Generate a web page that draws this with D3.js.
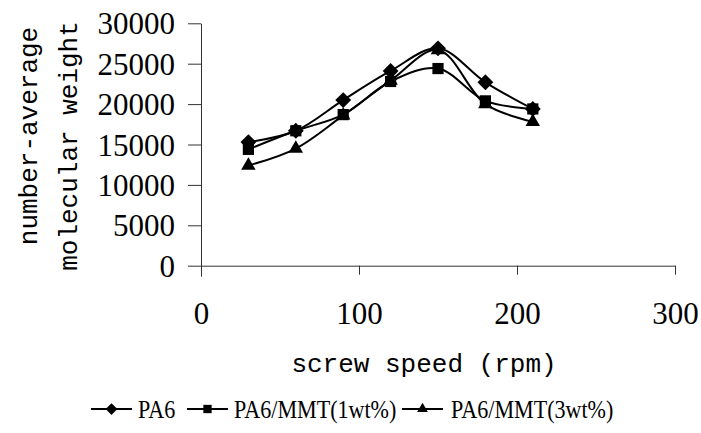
<!DOCTYPE html>
<html>
<head>
<meta charset="utf-8">
<script src="https://cdn.jsdelivr.net/npm/d3@7"></script>
<style>
  body { margin: 0; background: #fff; }
  svg { display: block; }
</style>
</head>
<body>
<svg id="chart" width="701" height="433"></svg>
<script>
// screw speed (rpm)
const speeds = [30, 60, 90, 120, 150, 180, 210];
// number-average molecular weight
const pa6 = [15300, 16700, 20500, 24100, 26900, 22700, 19400];
const pa6_1wt = [14400, 16700, 18700, 22800, 24400, 20400, 19400];
const pa6_3wt = [12400, 14500, 18600, 22900, 26700, 20000, 17800];
const seriesNames = ["PA6", "PA6/MMT(1wt%)", "PA6/MMT(3wt%)"];
const xTicks = [0, 100, 200, 300];
const yTicks = [0, 5000, 10000, 15000, 20000, 25000, 30000];

const SERIF = "'Liberation Serif', 'Times New Roman', serif";
const MONO = "'Liberation Mono', 'DejaVu Sans Mono', monospace";

const svg = d3.select("#chart");
const margin = { left: 201, top: 23.3, right: 26, bottom: 167.3 };
const W = 701, H = 433;

const x = d3.scaleLinear().domain([0, 300]).range([margin.left, W - margin.right]);
const y = d3.scaleLinear().domain([0, 30000]).range([H - margin.bottom, margin.top]);

// axes
const yAxis = svg.append("g")
  .attr("transform", `translate(${margin.left},0)`)
  .call(d3.axisLeft(y).tickValues(yTicks).tickSize(13).tickSizeOuter(0).tickPadding(13).tickFormat(d3.format("d")));
yAxis.selectAll("text").attr("font-family", SERIF).attr("font-size", 31).attr("fill", "#000").attr("dy", "0.34em");

const xAxis = svg.append("g")
  .attr("transform", `translate(0,${y(0)})`)
  .call(d3.axisBottom(x).tickValues(xTicks).tickSize(9).tickSizeOuter(0).tickFormat(d3.format("d")));
xAxis.selectAll("text").attr("font-family", SERIF).attr("font-size", 31).attr("fill", "#000")
  .attr("y", 58).attr("dy", 0);
// the y axis runs a bit past the x axis, like the reference
xAxis.selectAll(".tick").filter(d => d === 0).select("line").attr("y2", 11);
svg.selectAll(".domain, .tick line").attr("stroke", "#333").attr("stroke-width", 1);

// axis titles
svg.append("text")
  .attr("transform", `translate(37,136) rotate(-90)`)
  .attr("text-anchor", "middle")
  .attr("font-family", MONO).attr("font-size", 26)
  .text("number-average");
svg.append("text")
  .attr("transform", `translate(77,146) rotate(-90)`)
  .attr("text-anchor", "middle")
  .attr("font-family", MONO).attr("font-size", 26)
  .text("molecular weight");
svg.append("text")
  .attr("x", 424).attr("y", 372)
  .attr("text-anchor", "middle")
  .attr("font-family", MONO).attr("font-size", 26)
  .text("screw speed (rpm)");

// series
const series = [
  { name: seriesNames[0], values: pa6, symbol: d3.symbolDiamond2, size: 160 },
  { name: seriesNames[1], values: pa6_1wt, symbol: d3.symbolSquare2, size: 160 },
  { name: seriesNames[2], values: pa6_3wt, symbol: d3.symbolTriangle2, size: 150 },
];

const line = d3.line()
  .x((d, i) => x(speeds[i]))
  .y(d => y(d))
  .curve(d3.curveCatmullRom.alpha(0.5));

const sym = (s) => d3.symbol().type(s.symbol).size(s.size);

series.forEach(s => {
  svg.append("path")
    .attr("d", line(s.values))
    .attr("fill", "none")
    .attr("stroke", "#000")
    .attr("stroke-width", 2);
});
series.forEach(s => {
  svg.selectAll(null)
    .data(s.values)
    .enter()
    .append("path")
    .attr("d", sym(s))
    .attr("transform", (d, i) => `translate(${x(speeds[i])},${y(d)})`)
    .attr("fill", "#000");
});

// legend
const legendItems = [
  { lx: 91, tx: 138 },
  { lx: 187, tx: 234 },
  { lx: 402, tx: 451 },
];
const legY = 409;
series.forEach((s, i) => {
  const it = legendItems[i];
  const g = svg.append("g");
  g.append("line")
    .attr("x1", it.lx).attr("x2", it.lx + 41)
    .attr("y1", legY).attr("y2", legY)
    .attr("stroke", "#000").attr("stroke-width", 2);
  g.append("path")
    .attr("d", d3.symbol().type(s.symbol).size(s.size * 0.55))
    .attr("transform", `translate(${it.lx + 20.5},${legY})`)
    .attr("fill", "#000");
  // condensed lettering, like the reference legend
  g.append("text")
    .attr("transform", `translate(${it.tx},${legY + 9}) scale(0.85,1)`)
    .attr("font-family", SERIF).attr("font-size", 26)
    .text(s.name);
});
</script>
</body>
</html>
